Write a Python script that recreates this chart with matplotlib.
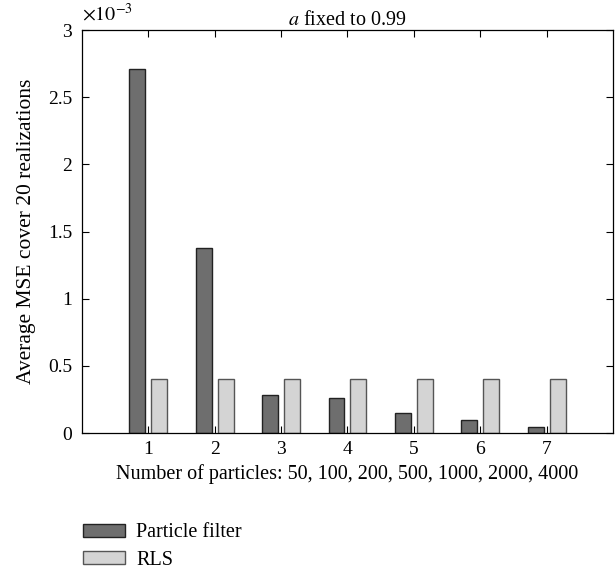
import matplotlib
matplotlib.use('Agg')
import matplotlib.pyplot as plt
import numpy as np

# data (units of 1e-3)
groups = [1, 2, 3, 4, 5, 6, 7]
pf_mse = [2.71, 1.38, 0.28, 0.26, 0.15, 0.10, 0.045]
rls_mse = [0.40, 0.40, 0.40, 0.40, 0.40, 0.40, 0.40]
yticks = [0, 0.5, 1, 1.5, 2, 2.5, 3]
ytick_labels = ['0', '0.5', '1', '1.5', '2', '2.5', '3']

plt.rcParams['font.family'] = ['Liberation Serif', 'DejaVu Serif']
plt.rcParams['mathtext.fontset'] = 'stix'
FS = 14.5


def main():
    fig = plt.figure(figsize=(6.15, 5.69), dpi=100)
    ax = fig.add_axes([0.1333, 0.239, 0.8634, 0.708])

    x = np.array(groups)
    w = 0.24
    ax.bar(x - 0.165, pf_mse, w, color='#6e6e6e', edgecolor='#222222',
           linewidth=1.0, label='Particle filter')
    ax.bar(x + 0.165, rls_mse, w, color='#d4d4d4', edgecolor='#555555',
           linewidth=1.0, label='RLS')

    ax.set_xlim(0, 8)
    ax.set_ylim(0, 3)
    ax.set_xticks(groups)
    ax.set_yticks(yticks)
    ax.set_yticklabels(ytick_labels)
    ax.tick_params(direction='in', top=True, right=True, length=5, width=0.8,
                   labelsize=14)
    ax.tick_params(axis='y', pad=7)
    ax.tick_params(axis='x', pad=6)
    for s in ax.spines.values():
        s.set_linewidth(0.9)

    ax.set_title(r'$\it{a}$ fixed to 0.99', fontsize=FS, pad=4)
    ax.text(0.0, 1.012, r'$\times10^{-3}$', transform=ax.transAxes,
            fontsize=FS, ha='left', va='bottom')
    ax.set_ylabel('Average MSE cover 20 realizations', fontsize=15.5, labelpad=9)
    ax.set_xlabel('Number of particles: 50, 100, 200, 500, 1000, 2000, 4000',
                  fontsize=FS, labelpad=4)

    fig.legend(loc='upper left', bbox_to_anchor=(0.1345, 0.08), frameon=False,
               handlelength=2.1, handleheight=0.6, handletextpad=0.55,
               labelspacing=0.4, borderaxespad=0, borderpad=0, fontsize=FS)

    fig.savefig('out.png', dpi=100)


if __name__ == '__main__':
    main()
